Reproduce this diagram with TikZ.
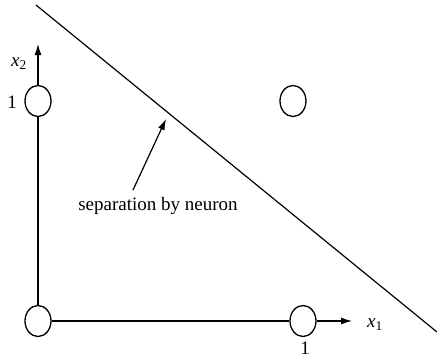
\documentclass[tikz,border=0pt]{standalone}
\usepackage{fontspec}
\setmainfont{Liberation Serif}
\usetikzlibrary{shapes.geometric,arrows.meta}
\newcommand{\vx}[1]{\textit{x}\textsubscript{#1}}
\begin{document}
\begin{tikzpicture}[x=1pt,y=-1pt,
  pt/.style={draw,ellipse,line width=1.3pt,minimum width=26pt,minimum height=31pt,inner sep=0pt},
  ln/.style={line width=1.2pt},
  arr/.style={line width=1.2pt,-{Latex[length=11pt,width=7pt]}},
  lbl/.style={font=\fontsize{19}{21}\selectfont,inner sep=0pt}]
\useasboundingbox (0,0) rectangle (437,359);
\node[pt] (o) at (38,321) {};
\node[pt] (a) at (38,101) {};
\node[pt] (b) at (303,321) {};
\node[pt] (c) at (293,101) {};
\coordinate (ytip) at (38,44);
\coordinate (xtip) at (352,321);
\draw[ln] (o.north) -- (a.south);
\draw[arr] (a.north) -- (ytip);
\draw[ln] (o.east) -- (b.west);
\draw[arr] (b.east) -- (xtip);
\coordinate (s1) at (36,5);
\coordinate (s2) at (437,332);
\draw[ln] (s1) -- (s2);
\node[lbl] (x2) at (19,64) {\vx{2}};
\node[lbl] (one2) at (12,102) {1};
\node[lbl] (x1) at (375,325) {\vx{1}};
\node[lbl] (one1) at (305,348) {1};
\node[lbl] (sep) at (158,206) {separation by neuron};
\coordinate (atip) at (166,119);
\draw[arr] (133,190) -- (atip);
\end{tikzpicture}
\end{document}
